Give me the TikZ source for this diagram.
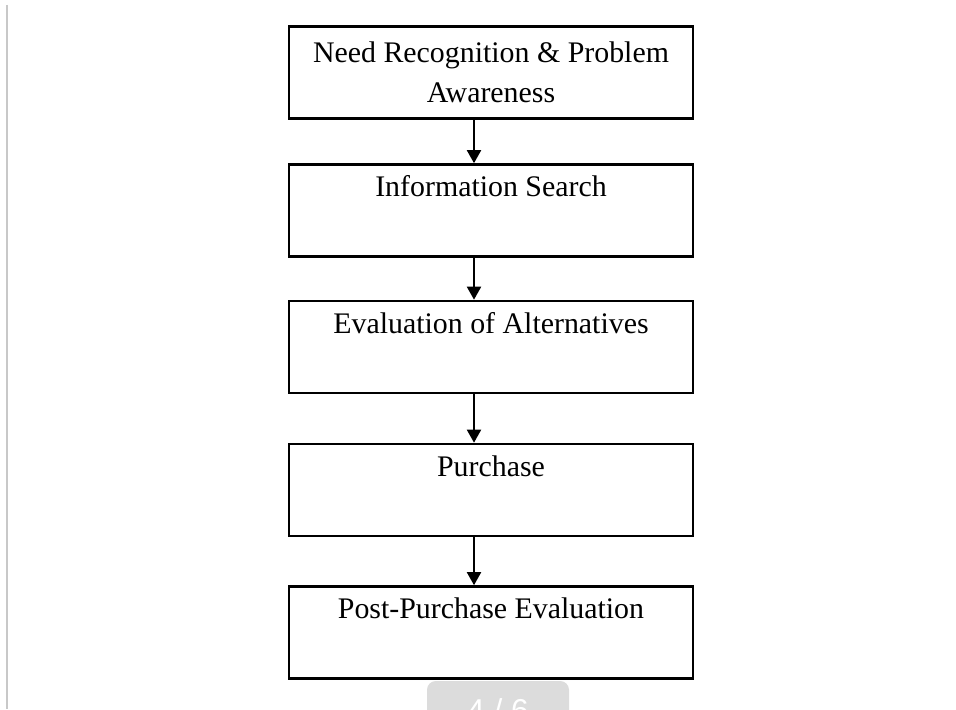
\documentclass[tikz,border=0pt]{standalone}
\usepackage{fontspec}
\setmainfont{Liberation Serif}
\newfontfamily\tabfont{Liberation Sans}
\usepackage{xcolor}
\usepackage{tikz}
\usetikzlibrary{arrows.meta,positioning,calc}

\definecolor{tabgrey}{HTML}{DCDCDC}
\definecolor{edgegrey}{HTML}{C8C8C8}

\begin{document}
\begin{tikzpicture}[
      stagebox/.style={draw, line width=1.5pt, rectangle, inner sep=0pt,
        minimum width=8.08cm, minimum height=1.84cm,
        font=\fontsize{17}{22.8}\selectfont},
      toptext/.style={text height=18.2pt, text depth=34pt},
      >={Triangle[width=0.28cm,length=0.26cm]}
    ]
    \useasboundingbox (0,0) rectangle (19.12,-14.18);
    \clip (0,0) rectangle (19.12,-14.18);

    % page edge on the left
    \draw[edgegrey, line width=0.04cm] (0.14,-0.1) -- (0.14,-14.18);

    \node[stagebox, align=center] (need) at (9.82,-1.45)
      {Need Recognition \& Problem\\Awareness};
    \node[stagebox, toptext] (search) at (9.82,-4.21) {Information Search};
    \node[stagebox, toptext] (evaluate) at (9.82,-6.94) {Evaluation of Alternatives};
    \node[stagebox, toptext] (purchase) at (9.82,-9.80) {Purchase};
    \node[stagebox, toptext] (post) at (9.82,-12.65) {Post-Purchase Evaluation};

    \draw[->, line width=1.1pt] ([xshift=-0.34cm]need.south) -- ([xshift=-0.34cm]search.north);
    \draw[->, line width=1.1pt] ([xshift=-0.34cm]search.south) -- ([xshift=-0.34cm]evaluate.north);
    \draw[->, line width=1.1pt] ([xshift=-0.34cm]evaluate.south) -- ([xshift=-0.34cm]purchase.north);
    \draw[->, line width=1.1pt] ([xshift=-0.34cm]purchase.south) -- ([xshift=-0.34cm]post.north);

    % page counter tab
    \fill[tabgrey, rounded corners=5pt] (8.54,-14.6) rectangle (11.38,-13.62);
    \node[white, anchor=base, font=\tabfont\fontsize{18}{20}\selectfont] (pager) at (9.96,-14.42) {4 / 6};
  \end{tikzpicture}
\end{document}
